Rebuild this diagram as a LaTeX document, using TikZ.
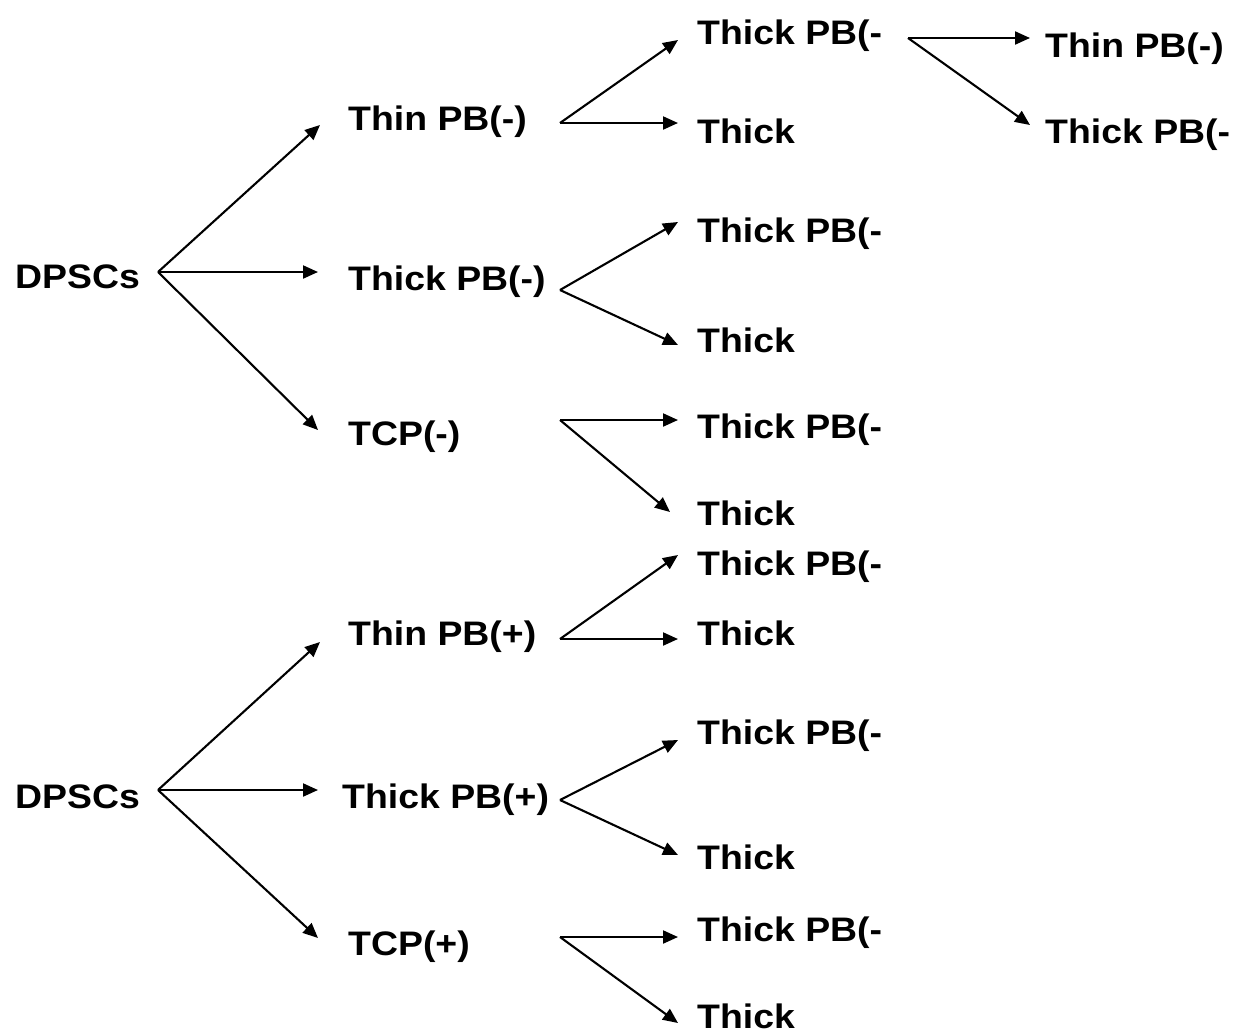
\documentclass[tikz,border=0pt]{standalone}
\usepackage{fontspec}
\setmainfont{Liberation Sans}[FakeStretch=1.1]
\usetikzlibrary{arrows.meta}
\begin{document}
\begin{tikzpicture}[x=1pt,y=-1pt,
  lbl/.style={anchor=base west,inner sep=0pt,font=\bfseries\fontsize{34}{40}\selectfont},
  arr/.style={line width=2.1pt,-{Triangle[length=15pt,width=13pt]}}]
\useasboundingbox (0,0) rectangle (1241,1034);
% level 1
\node[lbl] (d1) at (15,288) {DPSCs};
\node[lbl] (d2) at (15,808) {DPSCs};
% level 2
\node[lbl] (a1) at (348,130) {Thin PB(-)};
\node[lbl] (a2) at (348,290) {Thick PB(-)};
\node[lbl] (a3) at (348,445) {TCP(-)};
\node[lbl] (a4) at (348,645) {Thin PB(+)};
\node[lbl] (a5) at (342,808) {Thick PB(+)};
\node[lbl] (a6) at (348,955) {TCP(+)};
% level 3
\node[lbl] (b1) at (697,44) {Thick PB(-};
\node[lbl] (b2) at (697,143) {Thick};
\node[lbl] (b3) at (697,242) {Thick PB(-};
\node[lbl] (b4) at (697,352) {Thick};
\node[lbl] (b5) at (697,438) {Thick PB(-};
\node[lbl] (b6) at (697,525) {Thick};
\node[lbl] (b7) at (697,575) {Thick PB(-};
\node[lbl] (b8) at (697,645) {Thick};
\node[lbl] (b9) at (697,744) {Thick PB(-};
\node[lbl] (b10) at (697,869) {Thick};
\node[lbl] (b11) at (697,941) {Thick PB(-};
\node[lbl] (b12) at (697,1028) {Thick};
% level 4
\node[lbl] (c1) at (1045,57) {Thin PB(-)};
\node[lbl] (c2) at (1045,143) {Thick PB(-};
% fan origins
\coordinate (o1) at (158,272);
\coordinate (o2) at (158,790);
\coordinate (p1) at (560,123);
\coordinate (p2) at (560,290);
\coordinate (p3) at (560,420);
\coordinate (p4) at (560,639);
\coordinate (p5) at (560,800);
\coordinate (p6) at (560,937);
\coordinate (q1) at (908,38);
% connectors
\draw[arr] (o1) -- ([shift={(-28pt,5pt)}]a1.base west);
\draw[arr] (o1) -- ([shift={(-30pt,18pt)}]a2.base west);
\draw[arr] (o1) -- ([shift={(-30pt,15pt)}]a3.base west);
\draw[arr] (o2) -- ([shift={(-28pt,3pt)}]a4.base west);
\draw[arr] (o2) -- ([shift={(-24pt,18pt)}]a5.base west);
\draw[arr] (o2) -- ([shift={(-30pt,17pt)}]a6.base west);
\draw[arr] (p1) -- ([shift={(-19pt,4pt)}]b1.base west);
\draw[arr] (p1) -- ([shift={(-19pt,20pt)}]b2.base west);
\draw[arr] (p2) -- ([shift={(-19pt,20pt)}]b3.base west);
\draw[arr] (p2) -- ([shift={(-19pt,7pt)}]b4.base west);
\draw[arr] (p3) -- ([shift={(-19pt,18pt)}]b5.base west);
\draw[arr] (p3) -- ([shift={(-27pt,13pt)}]b6.base west);
\draw[arr] (p4) -- ([shift={(-19pt,20pt)}]b7.base west);
\draw[arr] (p4) -- ([shift={(-19pt,6pt)}]b8.base west);
\draw[arr] (p5) -- ([shift={(-19pt,4pt)}]b9.base west);
\draw[arr] (p5) -- ([shift={(-19pt,14pt)}]b10.base west);
\draw[arr] (p6) -- ([shift={(-19pt,4pt)}]b11.base west);
\draw[arr] (p6) -- ([shift={(-19pt,5pt)}]b12.base west);
\draw[arr] (q1) -- ([shift={(-15pt,19pt)}]c1.base west);
\draw[arr] (q1) -- ([shift={(-15pt,18pt)}]c2.base west);
\end{tikzpicture}
\end{document}
